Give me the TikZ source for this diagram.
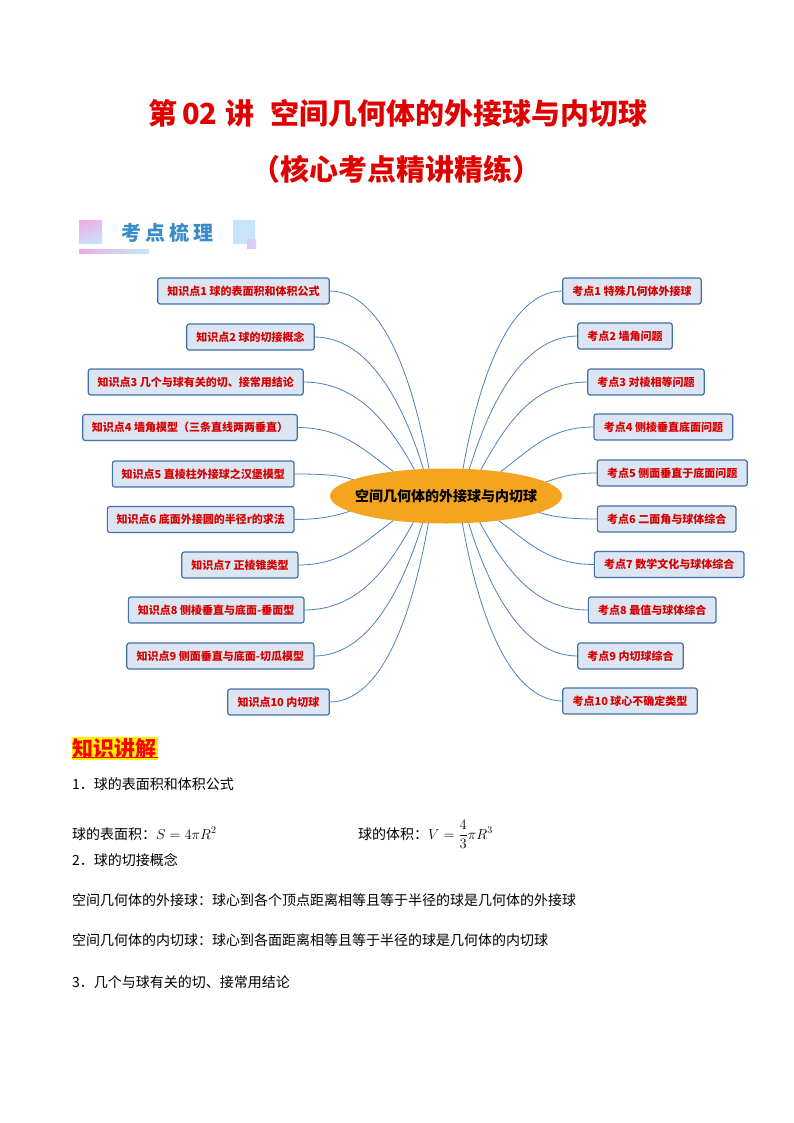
\documentclass[tikz,border=0pt]{standalone}
\usepackage{fontspec}
\setmainfont{Noto Sans CJK SC}
\usetikzlibrary{shapes.geometric,shadings}
\definecolor{boxfill}{RGB}{220,230,242}
\definecolor{boxline}{RGB}{65,113,170}
\definecolor{boxtext}{RGB}{215,0,0}
\definecolor{linkc}{RGB}{79,129,189}
\definecolor{hubc}{RGB}{243,165,32}
\definecolor{titlered}{RGB}{225,0,0}
\definecolor{headblue}{RGB}{56,140,200}
\definecolor{pinkA}{RGB}{240,170,225}
\definecolor{pinkB}{RGB}{228,190,238}
\definecolor{blueA}{RGB}{210,215,245}
\definecolor{blueB}{RGB}{195,230,248}
\definecolor{sqblue}{RGB}{200,228,248}
\definecolor{sqpink}{RGB}{232,195,242}
\definecolor{barcyan}{RGB}{195,235,245}
\begin{document}
\begin{tikzpicture}[x=1pt,y=-1pt,
  kbox/.style={draw=boxline, line width=1.2pt, fill=boxfill, rounded corners=2.5pt,
    minimum height=26pt, inner sep=0pt, outer sep=0pt, text=boxtext,
    font=\fontsize{11}{13}\selectfont\bfseries},
  link/.style={draw=linkc, line width=0.8pt},
  body/.style={anchor=base west, inner sep=0pt, font=\fontsize{14}{16}\selectfont},
  titletext/.style={anchor=base, inner sep=0pt, text=titlered, font=\fontsize{29}{32}\selectfont\bfseries}]
\useasboundingbox (0,0) rectangle (794,1123);
\fill[white] (0,0) rectangle (794,1123);

% title
\node[titletext] (t1) at (398,125) {第\hspace{5pt}02\hspace{8pt}讲\hspace{16pt}空间几何体的外接球与内切球};
\node[titletext] (t2) at (396,181) {（核心考点精讲精练）};

% header
\shade[upper left=pinkA, upper right=pinkB, lower left=blueA, lower right=blueB] (79,221) rectangle (102,243);
\node[inner sep=0pt, text=headblue, font=\fontsize{20}{22}\selectfont\bfseries] (head) at (167.5,233) {考\hspace{4pt}点\hspace{4pt}梳\hspace{4pt}理};
\shade[upper left=sqblue, upper right=sqblue, lower left=sqblue, lower right=blueB] (233,221) rectangle (255,243);
\shade[left color=sqpink, right color=blueA] (247,239) rectangle (256,248);
\shade[left color=pinkA, right color=barcyan] (79,249) rectangle (149,253);

% hub
\node[ellipse, fill=hubc, minimum width=232pt, minimum height=55pt, inner sep=0pt, outer sep=0pt,
  font=\fontsize{14}{16}\selectfont\bfseries] (hub) at (446,496) {\makebox[0pt][c]{空间几何体的外接球与内切球}};

% left boxes
\foreach \i/\cx/\cy/\w/\t in {
  1/243.5/291/171.6/{知识点1 球的表面积和体积公式},
  2/250.5/337/127.6/{知识点2 球的切接概念},
  3/195.8/382/215/{知识点3 几个与球有关的切、接常用结论},
  4/190/427.5/214.6/{知识点4 墙角模型（三条直线两两垂直）},
  5/203.2/474/181.7/{知识点5 直棱柱外接球之汉堡模型},
  6/200.7/519.5/186.7/{知识点6 底面外接圆的半径r的求法},
  7/239.9/565/116.3/{知识点7 正棱锥类型},
  8/216.2/610/175.7/{知识点8 侧棱垂直与底面-垂面型},
  9/220.4/656/187.3/{知识点9 侧面垂直与底面-切瓜模型},
  10/278.5/702/101.6/{知识点10 内切球}}
  {\node[kbox, minimum width=\w pt] (L\i) at (\cx,\cy) {\t};}

% right boxes
\foreach \i/\cx/\cy/\w/\t in {
  1/632/291/138.6/{考点1 特殊几何体外接球},
  2/625/336/94.6/{考点2 墙角问题},
  3/646/382/116.6/{考点3 对棱相等问题},
  4/663.4/427/138.7/{考点4 侧棱垂直底面问题},
  5/672.3/473/150/{考点5 侧面垂直于底面问题},
  6/666.7/519/138.7/{考点6 二面角与球体综合},
  7/669.2/564.5/149.7/{考点7 数学文化与球体综合},
  8/652.2/610/127.7/{考点8 最值与球体综合},
  9/630.5/656/105.6/{考点9 内切球综合},
  10/630/701/134.6/{考点10 球心不确定类型}}
  {\node[kbox, minimum width=\w pt] (R\i) at (\cx,\cy) {\t};}

% left links
\foreach \i/\a/\ax/\ay/\bx/\by in {
  1/122.7/55/0/-15/-85,
  2/130.6/55/0/-20/-65,
  3/140.5/55/0/-25/-45,
  4/155/45/0/-30/-22,
  5/170.8/25/0/-15/-5,
  6/189.2/25/0/-15/5,
  7/205/45/0/-30/22,
  8/219.5/55/0/-25/45,
  9/229.4/55/0/-20/65,
  10/237.3/55/0/-15/85}
  {\draw[link] (L\i.east) .. controls +(\ax,\ay) and +(\bx,\by) .. (hub.\a);}

% right links
\foreach \i/\a/\ax/\ay/\bx/\by in {
  1/58.7/-55/0/15/-85,
  2/49.4/-55/0/20/-65,
  3/37.9/-55/0/25/-45,
  4/24.9/-45/0/30/-22,
  5/8/-25/0/15/-5,
  6/350.8/-25/0/15/5,
  7/335/-45/0/30/22,
  8/322/-55/0/25/45,
  9/310.6/-55/0/20/65,
  10/301.3/-55/0/15/85}
  {\draw[link] (R\i.west) .. controls +(\ax,\ay) and +(\bx,\by) .. (hub.\a);}

% knowledge section
\node[fill=yellow, minimum width=86pt, minimum height=23.3pt, inner sep=0pt, text=red,
  font=\fontsize{21}{23}\selectfont\bfseries] (zs) at (114.7,748.3) {知识讲解};
\draw[red, line width=0.9pt] ([yshift=2.5pt]zs.south west) -- ([yshift=2.5pt]zs.south east);

\node[body] (p1) at (72,789) {1．球的表面积和体积公式};
\node[body] (p2) at (72,839) {球的表面积：$S=4\pi R^2$};
\node[body] (p3) at (358,839) {球的体积：$V=\displaystyle\frac{4}{3}\pi R^3$};
\node[body] (p4) at (72,865) {2．球的切接概念};
\node[body] (p5) at (72,905) {空间几何体的外接球：球心到各个顶点距离相等且等于半径的球是几何体的外接球};
\node[body] (p6) at (72,945) {空间几何体的内切球：球心到各面距离相等且等于半径的球是几何体的内切球};
\node[body] (p7) at (72,987) {3．几个与球有关的切、接常用结论};
\end{tikzpicture}
\end{document}
